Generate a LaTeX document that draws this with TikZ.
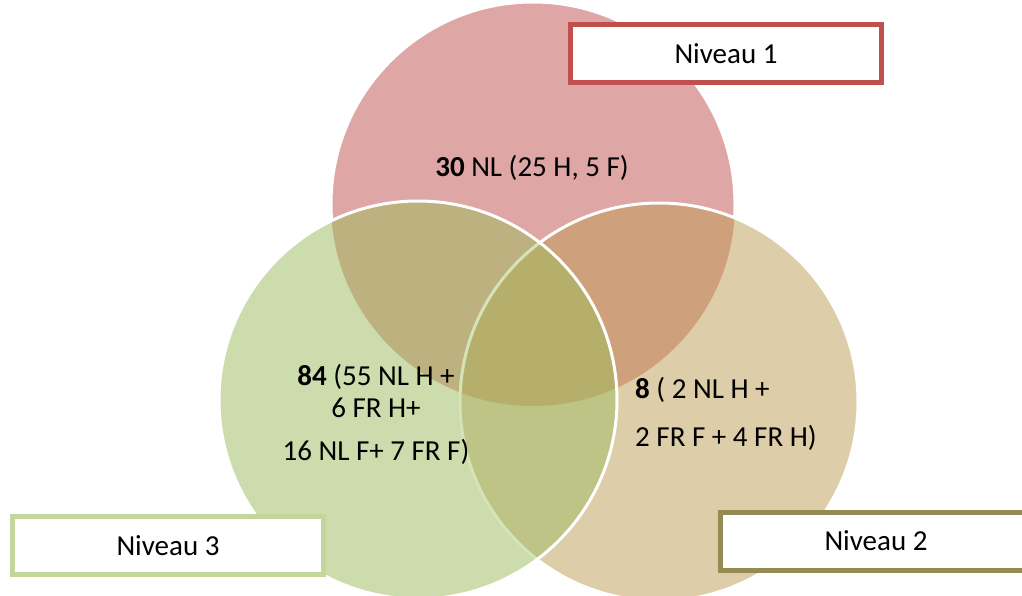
\documentclass[tikz,border=0pt]{standalone}
\usepackage{fontspec}
\setmainfont{Carlito}
\definecolor{pinkF}{HTML}{DFA6A6}
\definecolor{tanF}{HTML}{DDCDA8}
\definecolor{greenF}{HTML}{CDDCAC}
\definecolor{ptF}{HTML}{CEA07B}
\definecolor{pgF}{HTML}{BEB180}
\definecolor{gtF}{HTML}{BEC486}
\definecolor{pgtF}{HTML}{B6AF6C}
\definecolor{greenLine}{HTML}{D5E4B8}
\definecolor{lvlRed}{HTML}{C0504D}
\definecolor{lvlGreen}{HTML}{C3D69B}
\definecolor{lvlOlive}{HTML}{948A54}
% the three sets of the diagram
\newcommand\vennP{(533,204) circle[radius=202pt]}
\newcommand\vennG{(418,400) circle[radius=199pt]}
\newcommand\vennT{(659,402) circle[radius=199pt]}
\begin{document}
\begin{tikzpicture}[x=1pt,y=-1pt,
  lvlbox/.style={draw, fill=white, line width=5pt, minimum width=311pt,
    minimum height=58pt, inner sep=0pt, font=\fontsize{29}{32}\selectfont},
  txt/.style={inner sep=0pt, font=\fontsize{29}{32}\selectfont},
  ring/.style={draw=white, line width=3pt}]
\clip (0,0) rectangle (1022,596);
% level 1 circle
\fill[pinkF] \vennP;
\draw[ring] \vennP;
% level 2 circle and its overlap with level 1
\fill[tanF] \vennT;
\begin{scope}
  \clip \vennP;
  \fill[ptF] \vennT;
\end{scope}
\draw[ring] \vennT;
% level 3 circle and its overlaps
\fill[greenF] \vennG;
\begin{scope}
  \clip \vennG;
  \fill[pgF] \vennP;
\end{scope}
\begin{scope}
  \clip \vennG;
  \fill[gtF] \vennT;
\end{scope}
\begin{scope}
  \clip \vennG;
  \clip \vennT;
  \fill[pgtF] \vennP;
\end{scope}
\begin{scope}
  \clip \vennG;
  \draw[greenLine, line width=3pt] \vennT;
\end{scope}
\draw[ring] \vennG;
% counts
\node[txt] (t1) at (532,168) {\textbf{30} NL (25 H, 5 F)};
\node[txt, align=center] (t3) at (376,414)
  {\textbf{84} (55 NL H +\\6 FR H+\\[11pt]16 NL F+ 7 FR F)};
\node[txt, align=left, anchor=west] (t2) at (635,414)
  {\textbf{8} ( 2 NL H +\\[16pt]2 FR F + 4 FR H)};
% level labels
\node[lvlbox, draw=lvlRed] (n1) at (726,53.5) {Niveau 1};
\node[lvlbox, draw=lvlGreen] (n3) at (168,545.5) {Niveau 3};
\node[lvlbox, draw=lvlOlive] (n2) at (876,541) {Niveau 2};
\end{tikzpicture}
\end{document}
